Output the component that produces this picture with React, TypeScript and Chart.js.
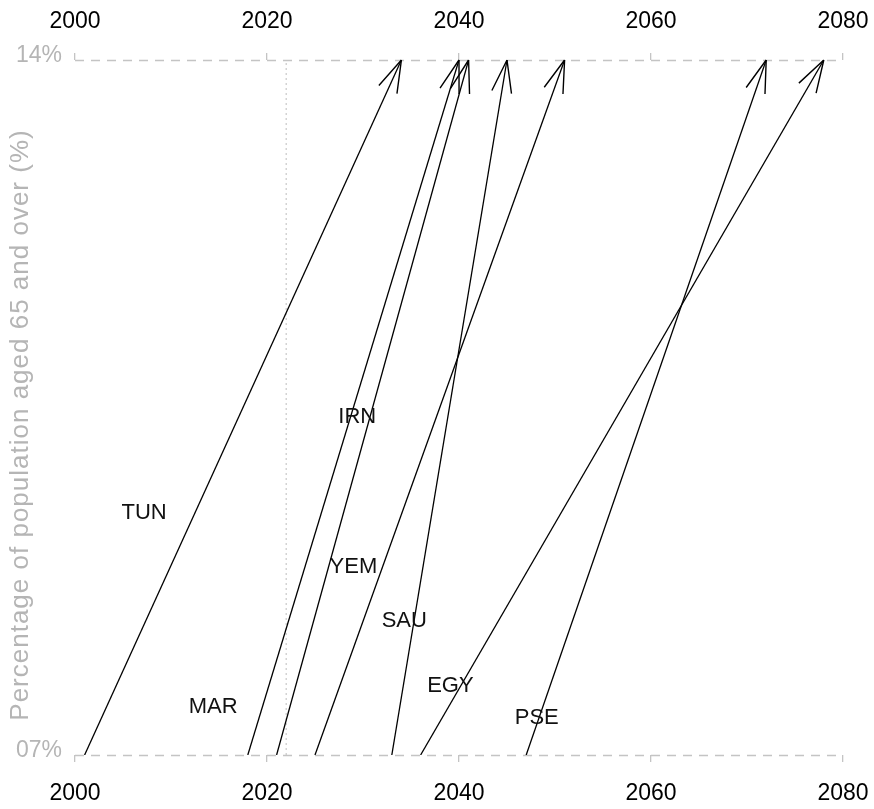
import React, { useEffect, useRef } from "react";
import { Chart, registerables } from "chart.js";

Chart.register(...registerables);

// ---- data ----
const countries = ["TUN", "MAR", "IRN", "YEM", "SAU", "EGY", "PSE"];
const yearReach7 = [2001, 2018, 2021, 2025, 2033, 2036, 2047];
const yearReach14 = [2034, 2040, 2041, 2051, 2045, 2078, 2072];
const labelYears = [2007.2, 2014.4, 2029.4, 2029.0, 2034.3, 2039.1, 2048.1];
const labelShares = [9.44, 7.48, 10.4, 8.89, 8.35, 7.7, 7.37];
const shareStart = 7;
const shareEnd = 14;
const currentYear = 2022;
const xTicks = [2000, 2020, 2040, 2060, 2080];
const yTicks = [7, 14];
const yTickLabels = ["07%", "14%"];
const yTitle = "Percentage of population aged 65 and over (%)";

const FONT = "'Liberation Sans', Arial, Helvetica, sans-serif";
const GRAY_TEXT = "#b5b5b5";
const GRAY_LINE = "#c4c4c4";

const arrowPlugin = {
  id: "arrowHeads",
  afterDatasetsDraw(chart: any) {
    const ctx = chart.ctx;
    chart.data.datasets.forEach((ds: any, i: number) => {
      if (!ds.arrow) return;
      const meta = chart.getDatasetMeta(i);
      const p0 = meta.data[0];
      const p1 = meta.data[1];
      if (!p0 || !p1) return;
      const back = Math.atan2(p0.y - p1.y, p0.x - p1.x);
      const L = 34;
      const half = (17 * Math.PI) / 180;
      ctx.save();
      ctx.strokeStyle = "#000";
      ctx.lineWidth = 1.4;
      ctx.beginPath();
      [-1, 1].forEach((s) => {
        const a = back + s * half;
        ctx.moveTo(p1.x, p1.y);
        ctx.lineTo(p1.x + L * Math.cos(a), p1.y + L * Math.sin(a));
      });
      ctx.stroke();
      ctx.restore();
    });
  },
};

const frameLinesPlugin = {
  id: "dashedFrame",
  beforeDatasetsDraw(chart: any) {
    const ctx = chart.ctx;
    const xs = chart.scales.x;
    const ys = chart.scales.y;
    const x0 = xs.getPixelForValue(xTicks[0]);
    const x1 = xs.getPixelForValue(xTicks[xTicks.length - 1]);
    ctx.save();
    ctx.strokeStyle = GRAY_LINE;
    ctx.lineWidth = 1.6;
    ctx.setLineDash([9, 7]);
    [shareStart, shareEnd].forEach((v) => {
      const y = Math.round(ys.getPixelForValue(v)) + 0.5;
      ctx.beginPath();
      ctx.moveTo(x0, y);
      ctx.lineTo(x1, y);
      ctx.stroke();
    });
    ctx.restore();
  },
};

const labelPlugin = {
  id: "countryLabels",
  afterDatasetsDraw(chart: any) {
    const ctx = chart.ctx;
    const xs = chart.scales.x;
    const ys = chart.scales.y;
    ctx.save();
    ctx.fillStyle = "#111";
    ctx.font = `22px ${FONT}`;
    ctx.textAlign = "center";
    ctx.textBaseline = "middle";
    countries.forEach((c, i) => {
      ctx.fillText(c, xs.getPixelForValue(labelYears[i]), ys.getPixelForValue(labelShares[i]));
    });
    ctx.restore();
  },
};

const yTitlePlugin = {
  id: "yTitle",
  afterDraw(chart: any) {
    const ctx = chart.ctx;
    ctx.save();
    ctx.fillStyle = GRAY_TEXT;
    ctx.font = `26px ${FONT}`;
    try {
      (ctx as any).letterSpacing = "1px";
    } catch (e) {}
    ctx.textAlign = "center";
    ctx.textBaseline = "middle";
    ctx.translate(21, 425);
    ctx.rotate(-Math.PI / 2);
    ctx.fillText(yTitle, 0, 0);
    ctx.restore();
  },
};

function xAxis(position: "top" | "bottom", size: number) {
  return {
    type: "linear" as const,
    position,
    min: xTicks[0],
    max: xTicks[xTicks.length - 1],
    afterBuildTicks: (s: any) => {
      s.ticks = xTicks.map((v) => ({ value: v }));
    },
    afterFit: (s: any) => {
      s.height = size;
      s.paddingLeft = 0;
      s.paddingRight = 0;
    },
    ticks: {
      color: "#000",
      font: { family: FONT, size: 23 },
      padding: 18,
      maxRotation: 0,
      autoSkip: false,
      callback: (v: any) => String(v),
    },
    grid: {
      drawOnChartArea: false,
      drawTicks: true,
      tickLength: 7,
      color: GRAY_LINE,
      lineWidth: 1.3,
    },
    border: { display: false },
  };
}

export default function App() {
  const ref = useRef<HTMLCanvasElement>(null);

  useEffect(() => {
    if (!ref.current) return;
    const datasets: any[] = countries.map((c, i) => ({
      label: c,
      data: [
        { x: yearReach7[i], y: shareStart },
        { x: yearReach14[i], y: shareEnd },
      ],
      showLine: true,
      borderColor: "#000",
      borderWidth: 1.3,
      pointRadius: 0,
      arrow: true,
    }));
    datasets.push({
      label: "current",
      data: [
        { x: currentYear, y: shareStart },
        { x: currentYear, y: shareEnd },
      ],
      showLine: true,
      borderColor: "#c8c8c8",
      borderWidth: 1.2,
      borderDash: [2, 3],
      pointRadius: 0,
      arrow: false,
    });

    const chart = new Chart(ref.current, {
      type: "scatter",
      data: { datasets },
      options: {
        responsive: false,
        animation: false,
        devicePixelRatio: 1,
        layout: { padding: { left: 0, right: 31, top: 0, bottom: 0 } },
        plugins: {
          legend: { display: false },
          tooltip: { enabled: false },
        },
        scales: {
          x: xAxis("bottom", 54),
          x2: xAxis("top", 60),
          y: {
            type: "linear",
            position: "left",
            min: shareStart,
            max: shareEnd,
            afterBuildTicks: (s: any) => {
              s.ticks = yTicks.map((v) => ({ value: v }));
            },
            afterFit: (s: any) => {
              s.width = 75;
            },
            ticks: {
              color: GRAY_TEXT,
              font: { family: FONT, size: 23 },
              padding: 13,
              labelOffset: -4,
              callback: (v: any) => yTickLabels[yTicks.indexOf(Number(v))] ?? "",
            },
            grid: { display: false, drawTicks: false },
            border: { display: false },
          },
        },
      } as any,
      plugins: [frameLinesPlugin, arrowPlugin, labelPlugin, yTitlePlugin],
    });
    return () => chart.destroy();
  }, []);

  return (
    <div
      style={{
        position: "absolute",
        left: 0,
        top: 0,
        width: 874,
        height: 809,
        background: "#fff",
      }}
    >
      <canvas ref={ref} width={874} height={809} style={{ display: "block", width: 874, height: 809 }} />
    </div>
  );
}
